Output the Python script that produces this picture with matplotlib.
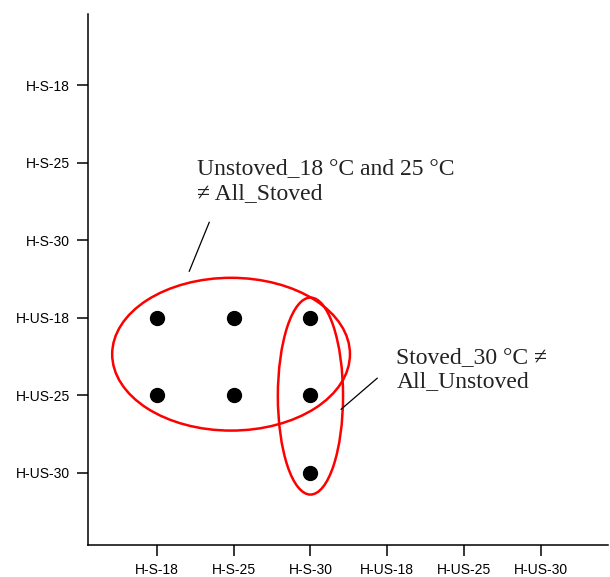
import matplotlib.pyplot as plt
from matplotlib.patches import Ellipse

# categories on both axes
x_labels = ['H-S-18', 'H-S-25', 'H-S-30', 'H-US-18', 'H-US-25', 'H-US-30']
y_labels = ['H-S-18', 'H-S-25', 'H-S-30', 'H-US-18', 'H-US-25', 'H-US-30']

# significant pairs (x category, y category)
pair_x = ['H-S-18', 'H-S-25', 'H-S-30', 'H-S-18', 'H-S-25', 'H-S-30', 'H-S-30']
pair_y = ['H-US-18', 'H-US-18', 'H-US-18', 'H-US-25', 'H-US-25', 'H-US-25', 'H-US-30']

note1 = 'Unstoved_18 °C and 25 °C\n≠ All_Stoved'
note2 = 'Stoved_30 °C ≠\nAll_Unstoved'

plt.rcParams['font.family'] = ['Liberation Sans', 'DejaVu Sans']

fig = plt.figure(figsize=(6.1, 5.77), dpi=100)
ax = fig.add_axes([0.1443, 0.0555, 0.8525, 0.920])

xpos = [x_labels.index(v) + 1 for v in pair_x]
ypos = [y_labels.index(v) + 1 for v in pair_y]
ax.plot(xpos, ypos, 'o', color='black', markersize=10, linestyle='none')

ax.set_xlim(0.1, 6.88)
ax.set_ylim(6.93, 0.085)
ax.set_xticks(range(1, 7))
ax.set_xticklabels(x_labels, fontsize=10)
ax.set_yticks(range(1, 7))
ax.set_yticklabels(y_labels, fontsize=10)
ax.tick_params(length=8, width=1.1, pad=5)

for s in ['top', 'right']:
    ax.spines[s].set_visible(False)
for s in ['left', 'bottom']:
    ax.spines[s].set_linewidth(1.1)

# group outlines
ax.add_patch(Ellipse((1.965, 4.47), 3.10, 1.97, fill=False, edgecolor='red', linewidth=1.8))
ax.add_patch(Ellipse((3.0, 5.01), 0.85, 2.54, fill=False, edgecolor='red', linewidth=1.8))

serif = ['Liberation Serif', 'DejaVu Serif']
ax.text(1.52, 2.24, note1, family=serif, fontsize=17, va='center', ha='left',
        linespacing=1.22, color='#222222')
ax.text(4.12, 4.67, note2, family=serif, fontsize=17, va='center', ha='left',
        linespacing=1.22, color='#222222')

# leader lines
ax.plot([1.68, 1.42], [2.77, 3.40], color='black', linewidth=0.9)
ax.plot([3.87, 3.40], [4.78, 5.18], color='black', linewidth=0.9)

fig.savefig('out.png', dpi=100)
